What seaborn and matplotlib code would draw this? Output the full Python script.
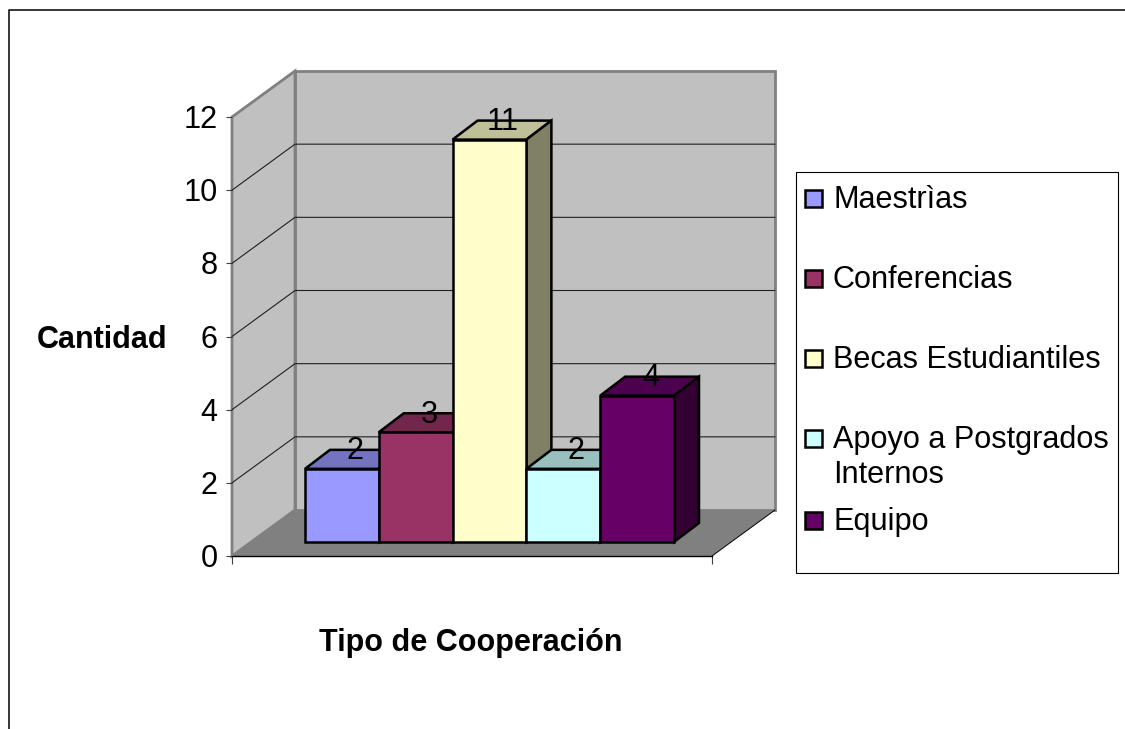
import matplotlib
matplotlib.use("Agg")
import matplotlib.pyplot as plt
import seaborn as sns
from matplotlib.colors import to_rgb
from matplotlib.lines import Line2D
from matplotlib.patches import Polygon, Rectangle
from matplotlib.transforms import ScaledTranslation

categories = ["Maestrìas", "Conferencias", "Becas Estudiantiles", "Apoyo a Postgrados", "Equipo"]
values = [2, 3, 11, 2, 4]
colors = ["#9999FF", "#993366", "#FFFFCC", "#CCFFFF", "#660066"]
y_ticks = [0, 2, 4, 6, 8, 10, 12]
legend_labels = ["Maestrìas", "Conferencias", "Becas Estudiantiles", "Apoyo a Postgrados\nInternos", "Equipo"]
legend_rows = [198, 278, 358, 438, 520]

W, H = 1125, 729
FONT = 22.1
BOLD = 22

sns.set_theme(style="white")
plt.rcParams["font.family"] = ["Liberation Sans", "DejaVu Sans"]


def fx(px):
    return px / W


def fy(py):
    return 1 - py / H


def axes_box(left, right, top, bottom):
    return [fx(left), fy(bottom), (right - left) / W, (bottom - top) / H]


def shade(color, factor):
    return tuple(c * factor for c in to_rgb(color))


fig = plt.figure(figsize=(W / 100, H / 100), dpi=100, facecolor="white")

# outer chart border, only top and left show in the crop
fig.add_artist(Line2D([fx(9), fx(9), 1], [0, fy(10), fy(10)], color="black", lw=1.1))

# front plane of the 3d box, carries the value axis
ax = fig.add_axes(axes_box(232, 712, 117, 556), facecolor="none")
ax.set_ylim(0, 12)
ax.set_xlim(0, 1)
ax.set_yticks(y_ticks)
ax.set_xticks([0, 1])
ax.set_xticklabels([])
ax.tick_params(axis="y", direction="out", length=4.5, width=0.8, color="#404040",
               left=True, pad=6, labelsize=FONT, labelcolor="black")
ax.tick_params(axis="x", direction="out", length=6, width=0.8, color="#404040", bottom=True)
for lab in ax.get_yticklabels():
    lab.set_transform(lab.get_transform() + ScaledTranslation(0, 0.5 / 100, fig.dpi_scale_trans))
for side in ["top", "right", "left"]:
    ax.spines[side].set_visible(False)
ax.spines["bottom"].set_color("black")
ax.spines["bottom"].set_linewidth(1.0)

# walls and floor, depth is given as a share of the front plane
dx = 63 / 480
dy = 46 / 439
tr = ax.transAxes
wall_kw = dict(transform=tr, clip_on=False, zorder=0.5, joinstyle="miter")
ax.add_patch(Polygon([(dx, dy), (1 + dx, dy), (1 + dx, 1 + dy), (dx, 1 + dy)],
                     facecolor="#C0C0C0", edgecolor="#808080", lw=2, **wall_kw))
ax.add_patch(Polygon([(0, 0), (dx, dy), (dx, 1 + dy), (0, 1)],
                     facecolor="#C0C0C0", edgecolor="#808080", lw=2, **wall_kw))
ax.add_patch(Polygon([(0, 0), (1, 0), (1 + dx, dy), (dx, dy)],
                     facecolor="#808080", edgecolor="none", transform=tr, clip_on=False, zorder=0.6))
ax.add_artist(Line2D([1, 1 + dx], [0, dy], color="black", lw=0.7, transform=tr, clip_on=False, zorder=0.7))

for v in y_ticks[1:-1]:
    f = v / 12
    ax.add_artist(Line2D([0, dx, 1 + dx], [f, f + dy, f + dy], color="#202020", lw=0.8,
                         transform=tr, clip_on=False, zorder=0.7))

# bars sit a bit inside the floor, so they get their own axes
ax_bars = fig.add_axes(axes_box(305, 674, 103, 542), facecolor="none")
sns.barplot(x=categories, y=values, hue=categories, palette=colors, width=1, dodge=False,
            edgecolor="black", linewidth=1.8, legend=False, saturation=1, ax=ax_bars)
ax_bars.set_xlim(-0.5, 4.5)
ax_bars.set_ylim(0, 12)
ax_bars.axis("off")

bar_dx = 25 / 73.8
bar_dy = 19 / 36.6
bars = sorted([p for p in ax_bars.patches if p.get_height() > 0], key=lambda p: p.get_x())
for i, (bar, color) in enumerate(zip(bars, colors)):
    x0, w, h = bar.get_x(), bar.get_width(), bar.get_height()
    z = 3 + i
    bar.set_zorder(z + 0.2)
    bar.set_clip_on(False)
    top = [(x0, h), (x0 + w, h), (x0 + w + bar_dx, h + bar_dy), (x0 + bar_dx, h + bar_dy)]
    right = [(x0 + w, 0), (x0 + w + bar_dx, bar_dy), (x0 + w + bar_dx, h + bar_dy), (x0 + w, h)]
    ax_bars.add_patch(Polygon(top, facecolor=shade(color, 0.75), edgecolor="black", lw=1.8,
                              clip_on=False, zorder=z))
    ax_bars.add_patch(Polygon(right, facecolor=shade(color, 0.5), edgecolor="black", lw=1.8,
                              clip_on=False, zorder=z))

for bar, v in zip(bars, values):
    ax_bars.annotate(str(v), (bar.get_x() + bar.get_width() / 2, v), xytext=(9.5, 12.5),
                     textcoords="offset points", ha="center", va="center",
                     fontsize=FONT, color="black", zorder=20, annotation_clip=False)

fig.text(fx(102), fy(340), "Cantidad", ha="center", va="center", fontsize=BOLD, fontweight="bold", color="black")
fig.text(fx(471), fy(643), "Tipo de Cooperación", ha="center", va="center", fontsize=BOLD, fontweight="bold", color="black")

# legend rows are unevenly spaced in the original so they are laid out by hand
fig.add_artist(Rectangle((fx(796), fy(573)), 322 / W, 401 / H, transform=fig.transFigure,
                         facecolor="white", edgecolor="black", lw=0.8))
for label, color, row in zip(legend_labels, colors, legend_rows):
    fig.add_artist(Rectangle((fx(805), fy(row + 9)), 17 / W, 17 / H, transform=fig.transFigure,
                             facecolor=color, edgecolor="black", lw=1.8))
    fig.text(fx(833), fy(row - 13), label, ha="left", va="top", fontsize=FONT, color="black",
             linespacing=1.22)

fig.savefig("out.png", dpi=100)
